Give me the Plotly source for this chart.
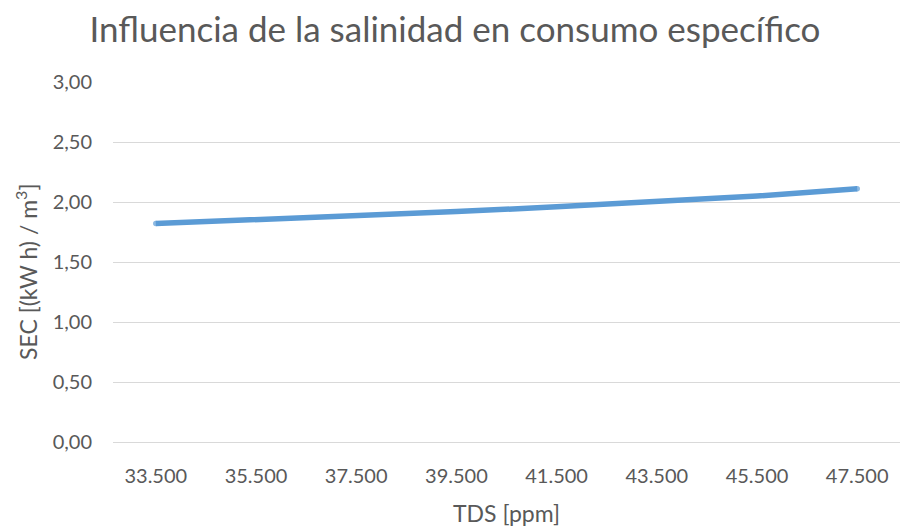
import plotly.graph_objects as go

# TDS categories (ppm) and specific energy consumption (kWh/m3)
tds_labels = ["33.500", "35.500", "37.500", "39.500", "41.500", "43.500", "45.500", "47.500"]
sec_values = [1.82, 1.85, 1.88, 1.92, 1.96, 2.00, 2.05, 2.11]
y_ticks = [0, 0.5, 1.0, 1.5, 2.0, 2.5, 3.0]

FONT = "Lato"
TEXT = "#595959"
GRID = "#d9d9d9"
LINE = "#5b9bd5"

W, H = 901, 527
L, R, T, B = 113, 1, 82, 85
LW = 5.5

# round caps only at both ends of the line
cap_sizes = [LW if i in (0, len(sec_values) - 1) else 0 for i in range(len(sec_values))]

fig = go.Figure(
    go.Scatter(
        x=tds_labels,
        y=sec_values,
        mode="lines+markers",
        line=dict(color=LINE, width=LW),
        marker=dict(color=LINE, size=cap_sizes, line=dict(width=0)),
        hoverinfo="x+y",
    )
)

fig.update_layout(
    width=W,
    height=H,
    margin=dict(l=L, r=R, t=T, b=B, pad=0),
    paper_bgcolor="white",
    plot_bgcolor="white",
    separators=",.",
    showlegend=False,
    font=dict(family=FONT, color=TEXT, size=20),
    title=dict(
        text="Influencia de la salinidad en consumo específico",
        x=0.505,
        xref="container",
        xanchor="center",
        y=1 - 30 / H,
        yanchor="middle",
        font=dict(family=FONT, size=35, color=TEXT),
    ),
    xaxis=dict(
        type="category",
        showgrid=False,
        showline=True,
        linecolor=GRID,
        linewidth=1.3,
        ticks="",
        ticklabelstandoff=16,
        tickfont=dict(size=20, color=TEXT),
        title=dict(text="TDS [ppm]", font=dict(size=23, color=TEXT), standoff=20),
        zeroline=False,
    ),
    yaxis=dict(
        range=[0, 3],
        tickvals=y_ticks,
        tickformat=".2f",
        showgrid=True,
        gridcolor=GRID,
        gridwidth=1.3,
        zeroline=False,
        showline=False,
        ticks="",
        ticklabelstandoff=20,
        tickfont=dict(size=20, color=TEXT),
    ),
)

fig.add_annotation(
    text="SEC [(kW h) / m<sup>3</sup>]",
    xref="paper",
    yref="paper",
    x=(26 - L) / (W - L - R),
    y=(H - B - 272) / (H - T - B),
    xanchor="center",
    yanchor="middle",
    textangle=-90,
    showarrow=False,
    font=dict(family=FONT, size=23, color=TEXT),
)

fig.write_html("out.html")
